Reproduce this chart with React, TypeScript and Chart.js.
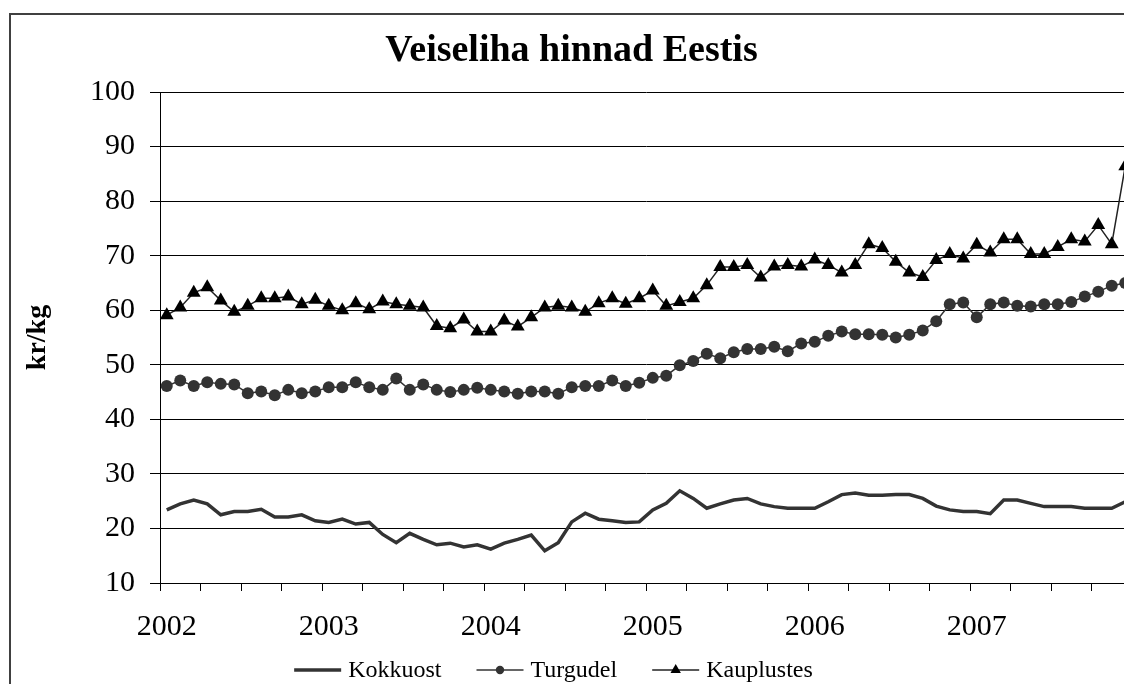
import React, { useEffect, useRef } from 'react';
import { Chart, registerables } from 'chart.js';

Chart.register(...registerables);

const FONT = '"Liberation Serif", "Times New Roman", Times, serif';

const years = ['2002', '2003', '2004', '2005', '2006', '2007'];
const monthNumbers = ['01', '02', '03', '04', '05', '06', '07', '08', '09', '10', '11', '12'];
const categories: string[] = years.flatMap((y) => monthNumbers.map((m) => `${y}-${m}`));

const kokkuost = [
  23.4, 24.5, 25.2, 24.5, 22.5, 23.1, 23.1, 23.5, 22.1, 22.1, 22.5, 21.4,
  21.1, 21.7, 20.8, 21.1, 18.9, 17.4, 19.1, 18.0, 17.0, 17.3, 16.6, 17.0,
  16.2, 17.3, 18.0, 18.8, 15.9, 17.4, 21.2, 22.8, 21.7, 21.4, 21.1, 21.2,
  23.4, 24.6, 26.9, 25.5, 23.7, 24.5, 25.2, 25.5, 24.5, 24.0, 23.7, 23.7,
  23.7, 24.9, 26.2, 26.5, 26.1, 26.1, 26.2, 26.2, 25.5, 24.1, 23.4, 23.1,
  23.1, 22.7, 25.2, 25.2, 24.6, 24.0, 24.0, 24.0, 23.7, 23.7, 23.7, 24.9,
];

const turgudel = [
  46.1, 47.1, 46.1, 46.8, 46.5, 46.4, 44.8, 45.1, 44.4, 45.4, 44.8, 45.1,
  45.9, 45.9, 46.8, 45.9, 45.4, 47.5, 45.4, 46.4, 45.4, 45.0, 45.4, 45.8,
  45.4, 45.1, 44.7, 45.1, 45.1, 44.7, 45.9, 46.1, 46.1, 47.1, 46.1, 46.7,
  47.6, 48.0, 49.9, 50.7, 52.0, 51.2, 52.3, 52.9, 52.9, 53.3, 52.5, 53.9,
  54.2, 55.3, 56.1, 55.6, 55.6, 55.5, 55.0, 55.5, 56.3, 58.0, 61.1, 61.4,
  58.7, 61.1, 61.4, 60.8, 60.7, 61.1, 61.1, 61.5, 62.5, 63.4, 64.5, 65.0,
];

const kauplustes = [
  59.1, 60.5, 63.2, 64.2, 61.8, 59.7, 60.8, 62.2, 62.2, 62.5, 61.1, 61.9,
  60.8, 60.0, 61.3, 60.2, 61.6, 61.1, 60.8, 60.5, 57.1, 56.7, 58.3, 56.1,
  56.1, 58.1, 57.0, 58.7, 60.5, 60.8, 60.5, 59.7, 61.3, 62.2, 61.2, 62.2,
  63.6, 60.8, 61.5, 62.2, 64.6, 67.9, 67.9, 68.3, 66.0, 68.0, 68.3, 68.0,
  69.3, 68.3, 66.9, 68.3, 72.1, 71.4, 68.9, 66.9, 66.1, 69.2, 70.3, 69.5,
  72.0, 70.6, 73.0, 73.0, 70.3, 70.3, 71.6, 73.0, 72.6, 75.6, 72.1, 86.4,
];

const CANVAS_W = 1140;
const CANVAS_H = 700;
const LEGEND_CX = 542.5;
const LEGEND_Y = 655;

const legendPlugin = {
  id: 'excelLegend',
  afterDraw(chart: any) {
    const ctx: CanvasRenderingContext2D = chart.ctx;
    ctx.save();
    ctx.font = `24px ${FONT}`;
    ctx.textBaseline = 'middle';
    ctx.textAlign = 'left';
    const sampleW = 47;
    const gapText = 7;
    const gapItem = 35;
    const items = chart.data.datasets.map((ds: any) => ({
      label: ds.label as string,
      color: ds.borderColor as string,
      lw: ds.borderWidth as number,
      style: ds.pointStyle as string,
      r: ds.pointRadius as number,
      fill: ds.pointBackgroundColor as string,
    }));
    const widths = items.map((it: any) => sampleW + gapText + ctx.measureText(it.label).width);
    const total = widths.reduce((a: number, b: number) => a + b, 0) + gapItem * (items.length - 1);
    let x = LEGEND_CX - total / 2;
    const y = LEGEND_Y;
    items.forEach((it: any, i: number) => {
      ctx.strokeStyle = it.color;
      ctx.lineWidth = it.lw;
      ctx.beginPath();
      ctx.moveTo(x, y);
      ctx.lineTo(x + sampleW, y);
      ctx.stroke();
      const cx = x + sampleW / 2;
      if (it.r > 0) {
        ctx.fillStyle = it.fill;
        ctx.beginPath();
        if (it.style === 'triangle') {
          const r = it.r * 0.75;
          ctx.moveTo(cx, y - r);
          ctx.lineTo(cx + r * 0.866, y + r / 2);
          ctx.lineTo(cx - r * 0.866, y + r / 2);
          ctx.closePath();
        } else {
          ctx.arc(cx, y, it.r * 0.7, 0, Math.PI * 2);
        }
        ctx.fill();
      }
      ctx.fillStyle = '#000';
      ctx.fillText(it.label, x + sampleW + gapText, y + 1);
      x += widths[i] + gapItem;
    });
    ctx.restore();
  },
};

export default function App() {
  const ref = useRef<HTMLCanvasElement | null>(null);

  useEffect(() => {
    if (!ref.current) return;
    const chart = new Chart(ref.current, {
      type: 'line',
      data: {
        labels: categories,
        datasets: [
          {
            label: 'Kokkuost',
            data: kokkuost,
            borderColor: '#333333',
            borderWidth: 3.5,
            pointRadius: 0,
            pointHoverRadius: 0,
            fill: false,
            tension: 0,
          },
          {
            label: 'Turgudel',
            data: turgudel,
            borderColor: '#333333',
            borderWidth: 1.5,
            pointStyle: 'circle',
            pointRadius: 6,
            pointBackgroundColor: '#333333',
            pointBorderColor: '#333333',
            pointBorderWidth: 0,
            fill: false,
            tension: 0,
          },
          {
            label: 'Kauplustes',
            data: kauplustes,
            borderColor: '#222222',
            borderWidth: 1.5,
            pointStyle: 'triangle',
            pointRadius: 8,
            pointBackgroundColor: '#000000',
            pointBorderColor: '#000000',
            pointBorderWidth: 0,
            fill: false,
            tension: 0,
          },
        ],
      },
      options: {
        responsive: false,
        animation: false,
        devicePixelRatio: 1,
        layout: { padding: { left: 0, right: 19, top: 0, bottom: 70 } },
        plugins: {
          legend: { display: false },
          tooltip: { enabled: false },
          title: {
            display: true,
            text: 'Veiseliha hinnad Eestis',
            color: '#000',
            font: { family: FONT, size: 38, weight: 'bold' },
            padding: { top: 13, bottom: 18.4 },
          },
        },
        scales: {
          x: {
            type: 'category',
            offset: true,
            grid: {
              offset: true,
              drawOnChartArea: false,
              drawTicks: true,
              tickLength: 8,
              lineWidth: 1,
              color: (c: any) => (typeof c.index === 'number' && c.index % 3 === 0 ? '#000' : 'rgba(0,0,0,0)'),
            },
            border: { display: true, color: '#000', width: 1 },
            ticks: {
              autoSkip: false,
              maxRotation: 0,
              minRotation: 0,
              padding: 18,
              color: '#000',
              font: { family: FONT, size: 30 },
              callback: (_v: any, i: number) => (i % 12 === 0 ? categories[i].slice(0, 4) : ''),
            },
            afterFit: (s: any) => {
              s.height = 62;
            },
          },
          y: {
            min: 10,
            max: 100,
            ticks: {
              stepSize: 10,
              padding: 15,
              color: '#000',
              font: { family: FONT, size: 30 },
            },
            grid: { color: '#000', lineWidth: 1, tickLength: 10 },
            border: { color: '#000', width: 1 },
            title: {
              display: true,
              text: 'kr/kg',
              color: '#000',
              font: { family: FONT, size: 28, weight: 'bold' },
              padding: { top: 10, bottom: 0 },
            },
            afterFit: (s: any) => {
              s.width = 149;
            },
          },
        },
      } as any,
      plugins: [legendPlugin],
    });
    return () => chart.destroy();
  }, []);

  return (
    <div style={{ position: 'fixed', left: 0, top: 0, width: 1124, height: 684, overflow: 'hidden', background: '#fff' }}>
      <div
        style={{
          position: 'absolute',
          left: 9,
          top: 13,
          width: CANVAS_W,
          height: CANVAS_H,
          border: '2px solid #404040',
          background: '#fff',
        }}
      >
        <canvas ref={ref} width={CANVAS_W} height={CANVAS_H} style={{ display: 'block', width: CANVAS_W, height: CANVAS_H }} />
      </div>
    </div>
  );
}
